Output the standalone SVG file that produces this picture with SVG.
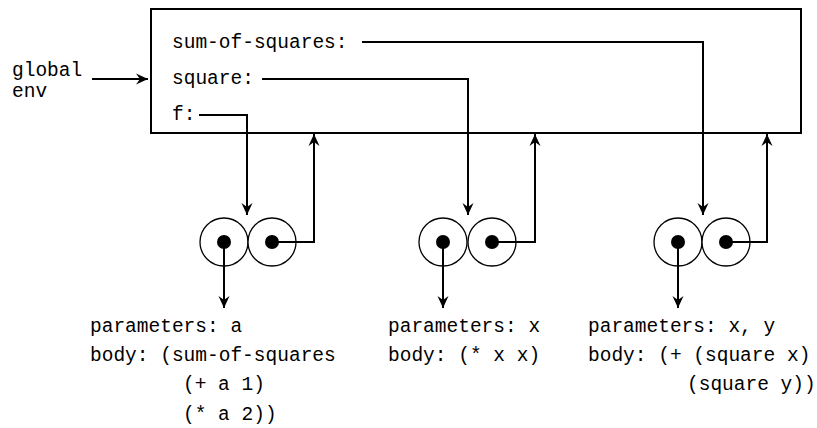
<svg xmlns="http://www.w3.org/2000/svg" width="817" height="428" viewBox="0 0 817 428">
  <style>
    text { font-family: "Liberation Mono", "DejaVu Sans Mono", monospace; font-size: 19.5px; fill: #000; }
    .frame { fill: #fff; stroke: #000; stroke-width: 2; }
    .cell { fill: #fff; stroke: #000; stroke-width: 1.3; }
    .dot { fill: #000; }
    .wire { fill: none; stroke: #000; stroke-width: 2; }
  </style>
  <defs>
    <marker id="ah" viewBox="-13 -7 14 14" refX="0" refY="0" markerWidth="14" markerHeight="14" markerUnits="userSpaceOnUse" orient="auto">
      <path d="M0,0 L-12,-5.5 L-8,0 L-12,5.5 Z" fill="#000"/>
    </marker>
  </defs>
  <rect width="817" height="428" fill="#fff"/>

  <g id="global-env-label">
    <text x="12" y="76">global</text>
    <text x="12" y="97">env</text>
  </g>

  <g id="global-frame">
    <rect class="frame" x="151" y="9" width="650" height="124"/>
    <text x="172" y="48">sum-of-squares:</text>
    <text x="172" y="84">square:</text>
    <text x="172" y="120">f:</text>
  </g>

  <g id="pair-f">
    <circle class="cell" cx="224" cy="242" r="24"/>
    <circle class="cell" cx="272" cy="242" r="24"/>
    <circle class="dot" cx="224" cy="242" r="7"/>
    <circle class="dot" cx="272" cy="242" r="7"/>
  </g>
  <g id="pair-square">
    <circle class="cell" cx="443" cy="242" r="24"/>
    <circle class="cell" cx="492" cy="242" r="24"/>
    <circle class="dot" cx="443" cy="242" r="7"/>
    <circle class="dot" cx="492" cy="242" r="7"/>
  </g>
  <g id="pair-sum-of-squares">
    <circle class="cell" cx="678" cy="242" r="24"/>
    <circle class="cell" cx="726" cy="242" r="24"/>
    <circle class="dot" cx="678" cy="242" r="7"/>
    <circle class="dot" cx="726" cy="242" r="7"/>
  </g>

  <g id="code-f">
    <text x="90" y="332">parameters: a</text>
    <text x="90" y="361">body: (sum-of-squares</text>
    <text x="183" y="390">(+ a 1)</text>
    <text x="183" y="420">(* a 2))</text>
  </g>
  <g id="code-square">
    <text x="388" y="332">parameters: x</text>
    <text x="388" y="361">body: (* x x)</text>
  </g>
  <g id="code-sum-of-squares">
    <text x="588" y="332">parameters: x, y</text>
    <text x="588" y="361">body: (+ (square x)</text>
    <text x="687" y="390">(square y))</text>
  </g>

  <g id="connectors">
    <path class="wire" d="M92,79 H148" marker-end="url(#ah)"/>
    <path class="wire" d="M199,115 H247 V215" marker-end="url(#ah)"/>
    <path class="wire" d="M262,79 H468 V215" marker-end="url(#ah)"/>
    <path class="wire" d="M362,42 H703 V215" marker-end="url(#ah)"/>
    <path class="wire" d="M272,242 H314 V134" marker-end="url(#ah)"/>
    <path class="wire" d="M492,242 H535 V134" marker-end="url(#ah)"/>
    <path class="wire" d="M726,242 H767 V134" marker-end="url(#ah)"/>
    <path class="wire" d="M224,242 V308" marker-end="url(#ah)"/>
    <path class="wire" d="M443,242 V308" marker-end="url(#ah)"/>
    <path class="wire" d="M678,242 V308" marker-end="url(#ah)"/>
  </g>
</svg>
